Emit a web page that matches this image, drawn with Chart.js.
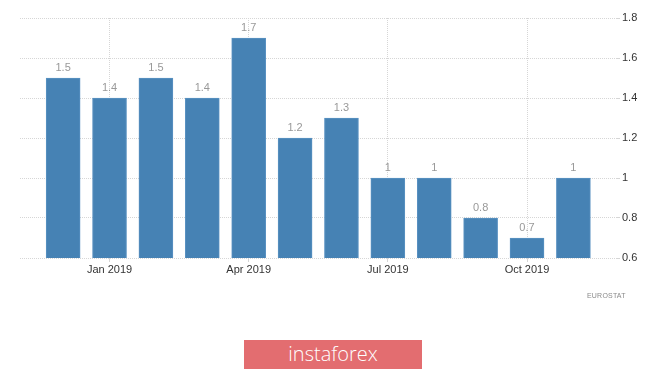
<!DOCTYPE html>
<html>
<head>
<meta charset="utf-8">
<script src="https://cdn.jsdelivr.net/npm/chart.js@4.4.1/dist/chart.umd.min.js"></script>
<style>
  html, body { margin:0; padding:0; background:#fff; }
  #wrap { position:relative; width:665px; height:371px; overflow:hidden; }
  #c { position:absolute; left:0; top:0; }
  .src { position:absolute; left:587px; top:292px; font:7px 'Liberation Sans', Arial, sans-serif; color:#8a8a8a; letter-spacing:0.2px; }
  .banner { position:absolute; left:244px; top:340px; width:178px; height:29px; background:#e36d70;
            color:#fff; font:300 20px 'Open Sans', sans-serif; text-align:center; line-height:28px; }
</style>
</head>
<body>
<div id="wrap">
  <canvas id="c" width="665" height="371"></canvas>
  <div class="src">EUROSTAT</div>
  <div class="banner">instaforex</div>
</div>
<script>
const months = ['Dec 2018','Jan 2019','Feb 2019','Mar 2019','Apr 2019','May 2019','Jun 2019',
                'Jul 2019','Aug 2019','Sep 2019','Oct 2019','Nov 2019'];
const values = [1.5, 1.4, 1.5, 1.4, 1.7, 1.2, 1.3, 1, 1, 0.8, 0.7, 1];
const tickLabels = ['Jan 2019','Apr 2019','Jul 2019','Oct 2019'];
const yTicks = [0.6, 0.8, 1, 1.2, 1.4, 1.6, 1.8];

const valueLabels = {
  id: 'valueLabels',
  afterDatasetsDraw(chart){
    const ctx = chart.ctx;
    const meta = chart.getDatasetMeta(0);
    ctx.save();
    ctx.fillStyle = '#999';
    ctx.font = '11px "Liberation Sans", Arial, sans-serif';
    ctx.textAlign = 'center';
    ctx.textBaseline = 'bottom';
    meta.data.forEach((bar, i)=>{
      ctx.fillText(String(values[i]), bar.x, bar.y - 5);
    });
    ctx.restore();
  }
};

new Chart(document.getElementById('c'), {
  type: 'bar',
  data: {
    datasets: [{
      data: values.map((v,i)=>({x:i, y:v})),
      backgroundColor: '#4682b4',
      borderColor: '#5a92c2',
      borderWidth: 1,
      barThickness: 34
    }]
  },
  options: {
    responsive: false,
    animation: false,
    layout: { padding: { left: 20, top: 18, right: 0, bottom: 93 } },
    plugins: { legend: { display:false }, tooltip: { enabled:false } },
    scales: {
      x: {
        type: 'linear',
        min: -0.93, max: 11.94,
        offset: false,
        afterBuildTicks: s => { s.ticks = tickLabels.map(l => ({ value: months.indexOf(l) })); },
        afterFit: s => { s.height = 20; },
        ticks: {
          callback: v => months[v],
          color: '#333',
          font: { family: '"Liberation Sans", Arial, sans-serif', size: 11 },
          padding: 1,
          maxRotation: 0,
          autoSkip: false
        },
        grid: { color: '#d6d6d6', tickLength: 4, drawTicks: true, offset: false },
        border: { display: false, dash: [1, 1] }
      },
      y: {
        position: 'right',
        min: 0.6, max: 1.8,
        afterBuildTicks: s => { s.ticks = yTicks.map(v => ({ value: v })); },
        afterFit: s => { s.width = 48; },
        ticks: {
          callback: v => String(Number(v.toFixed(1))),
          color: '#333',
          font: { family: '"Liberation Sans", Arial, sans-serif', size: 11 },
          padding: 2
        },
        grid: { color: '#d6d6d6', tickLength: 3 },
        border: { display: false, dash: [1, 1] }
      }
    }
  },
  plugins: [valueLabels]
});
</script>
</body>
</html>
